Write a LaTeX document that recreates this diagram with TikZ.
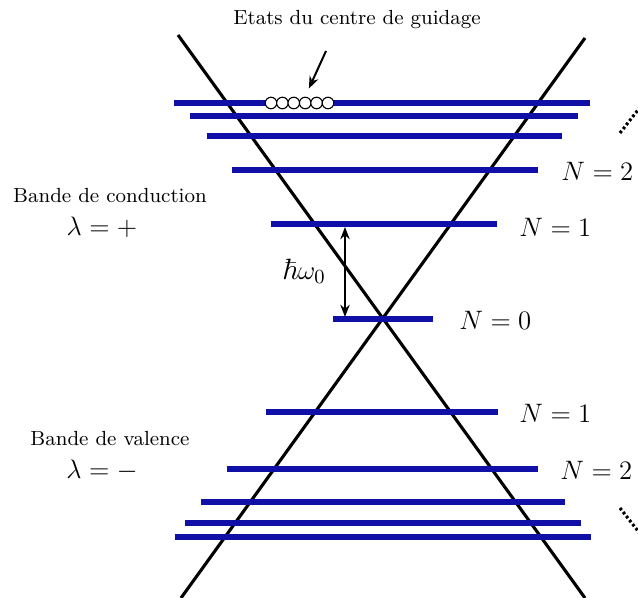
\documentclass[tikz,border=0pt]{standalone}
\usepackage{amsmath,amssymb}
\usepackage{xcolor}
\usepackage{tikz}
\usetikzlibrary{arrows.meta,positioning}
\definecolor{levelblue}{RGB}{16,16,168}

\begin{document}
\begin{tikzpicture}[x=0.45pt, y=-0.45pt,
  cone/.style={line width=1.4pt, black},
  level/.style={line width=2.3pt, levelblue},
  lbl/.style={font=\fontsize{13.2}{15}\selectfont, inner sep=0pt},
  txt/.style={font=\fontsize{9.2}{11}\selectfont, inner sep=0pt, align=center},
  guide/.style={circle, draw=black, fill=white, line width=0.5pt,
                minimum size=5.2pt, inner sep=0pt},
  arr/.style={-{Stealth[length=5.5pt,width=4.2pt]}, line width=0.9pt},
  dots/.style={line width=1.4pt, dash pattern=on 1.2pt off 1.1pt}
]
\useasboundingbox (0,0) rectangle (638,598);
\clip (0,0) rectangle (638,598);

% Dirac cone
\draw[cone] (178,35) -- (585,598);
\draw[cone] (585,38) -- (181,598);

% Landau levels
\foreach \y/\xa/\xb in {103/174/590, 116/190/578, 136/207/562, 170/232/538,
                        224/271/497, 319/333/433,
                        412/266/498, 469/227/538, 502/201/565, 523/185/581, 537/175/591}
  \draw[level] (\xa,\y) -- (\xb,\y);

% more levels
\draw[dots] (620,133) -- (645,101);
\draw[dots] (620,508) -- (645,540);

% level labels
\node[lbl, anchor=west] (n2c) at (561,171) {$N=2$};
\node[lbl, anchor=west] (n1c) at (519,227) {$N=1$};
\node[lbl, anchor=west] (n0)  at (459,320) {$N=0$};
\node[lbl, anchor=west] (n1v) at (519,413) {$N=1$};
\node[lbl, anchor=west] (n2v) at (560,470) {$N=2$};

% bands
\node[txt] (cond) at (110,196) {Bande de conduction};
\node[lbl] (lplus) at (102,227) {$\lambda=+$};
\node[txt] (val) at (110,439) {Bande de valence};
\node[lbl] (lminus) at (102,470) {$\lambda=-$};

% guiding centre states
\foreach \i in {0,...,5}
  \node[guide] (gc\i) at (271+11.4*\i,103) {};
\node[txt] (etats) at (357,20) {Etats du centre de guidage};
\coordinate (etatsfoot) at (326,51);
\draw[arr, shorten >=4pt] (etatsfoot) -- (gc3.north);

% cyclotron gap
\coordinate (gaptop) at (345,227);
\coordinate (gapbot) at (345,317);
\draw[arr, {Stealth[length=5.5pt,width=4.2pt]}-{Stealth[length=5.5pt,width=4.2pt]}] (gaptop) -- (gapbot);
\node[lbl] (hw) at (304,271) {$\hbar\omega_0$};
\end{tikzpicture}
\end{document}
